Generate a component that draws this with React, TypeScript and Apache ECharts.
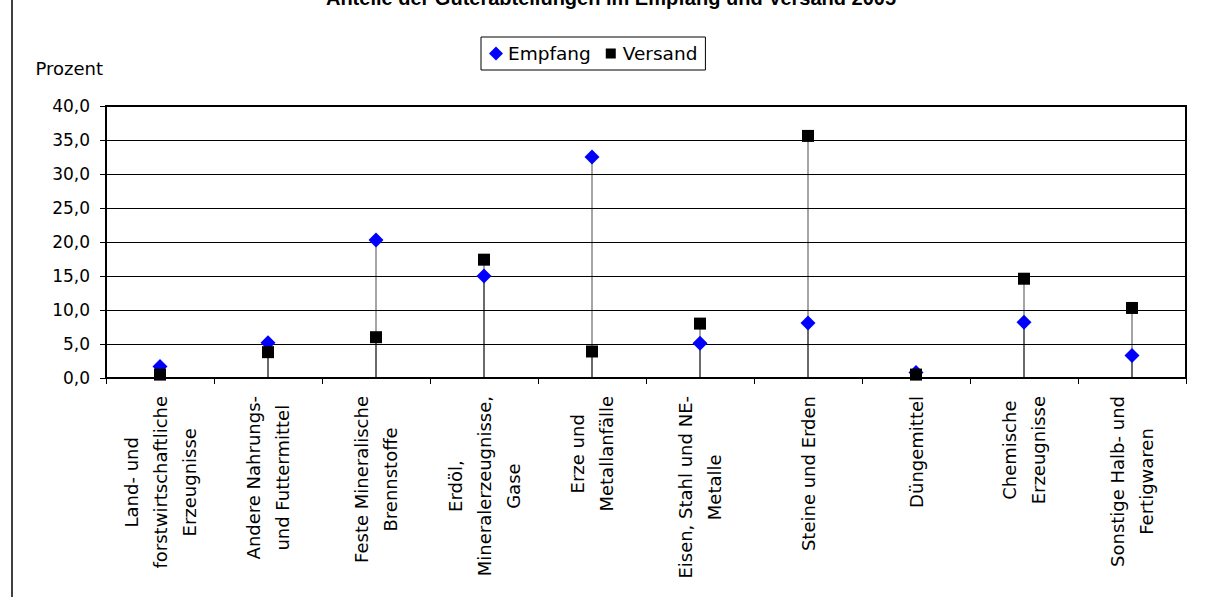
import React, { useEffect, useRef } from "react";
import * as echarts from "echarts";

const titleText = "Anteile der Güterabteilungen im Empfang und Versand 2005";
const yAxisName = "Prozent";
const categories = [
  "Land- und\nforstwirtschaftliche\nErzeugnisse",
  "Andere Nahrungs-\nund Futtermittel",
  "Feste Mineralische\nBrennstoffe",
  "Erdöl,\nMineralerzeugnisse,\nGase",
  "Erze und\nMetallanfälle",
  "Eisen, Stahl und NE-\nMetalle",
  "Steine und Erden",
  "Düngemittel",
  "Chemische\nErzeugnisse",
  "Sonstige Halb- und\nFertigwaren",
];
const empfang = [1.7, 5.2, 20.3, 15.0, 32.5, 5.1, 8.1, 0.8, 8.2, 3.3];
const versand = [0.5, 3.8, 6.0, 17.4, 3.9, 8.0, 35.6, 0.5, 14.6, 10.3];
const yMin = 0;
const yMax = 40;
const yInterval = 5;

const FONT = "DejaVu Sans";

export default function App() {
  const ref = useRef<HTMLDivElement>(null);
  useEffect(() => {
    if (!ref.current) return;
    const chart = echarts.init(ref.current, undefined, { renderer: "svg" });
    chart.setOption({
      animation: false,
      backgroundColor: "#fff",
      graphic: [
        {
          type: "text",
          x: 611,
          y: -12,
          style: {
            text: titleText,
            font: 'bold 20px "Liberation Sans"',
            fill: "#000",
            align: "center",
            verticalAlign: "top",
          },
        },
        {
          type: "line",
          shape: { x1: 12, y1: 0, x2: 12, y2: 597 },
          style: { stroke: "#000", lineWidth: 1.5 },
        },
      ],
      legend: {
        left: 481,
        top: 37,
        padding: [7, 8],
        itemGap: 13,
        itemWidth: 14,
        itemHeight: 14,
        borderColor: "#000",
        borderWidth: 1,
        borderRadius: 0,
        textStyle: { fontFamily: FONT, fontSize: 18.5, color: "#000" },
        data: [
          { name: "Empfang", icon: "diamond" },
          { name: "Versand", icon: "path://M-2,-2M12,12M0,0h10v10h-10z" },
        ],
      },
      grid: {
        left: 106,
        top: 106,
        width: 1080,
        height: 272,
        show: true,
        borderColor: "#000",
        borderWidth: 2,
        backgroundColor: "transparent",
      },
      xAxis: {
        type: "category",
        data: categories,
        boundaryGap: true,
        axisLine: { lineStyle: { color: "#000", width: 2 } },
        axisTick: { show: true, length: 6, lineStyle: { color: "#000", width: 1 } },
        axisLabel: {
          rotate: 90,
          margin: 18,
          interval: 0,
          formatter: (v: string) =>
            v
              .split("\n")
              .map((l) => `{c|${l}}`)
              .join("\n"),
          rich: {
            c: {
              align: "center",
              fontFamily: FONT,
              fontSize: 18,
              lineHeight: 29,
              color: "#000",
            },
          },
        },
      },
      yAxis: {
        type: "value",
        min: yMin,
        max: yMax,
        interval: yInterval,
        name: yAxisName,
        nameLocation: "end",
        nameGap: 29,
        nameTextStyle: {
          fontFamily: FONT,
          fontSize: 18,
          color: "#000",
          align: "right",
          padding: [0, 3, 0, 0],
        },
        axisLine: { show: true, lineStyle: { color: "#000", width: 2 } },
        axisTick: { show: true, length: 6, lineStyle: { color: "#000", width: 1 } },
        axisLabel: {
          margin: 16,
          fontFamily: FONT,
          fontSize: 17,
          color: "#000",
          formatter: (v: number) => v.toFixed(1).replace(".", ","),
        },
        splitLine: { show: true, lineStyle: { color: "#000", width: 1 } },
      },
      series: [
        {
          name: "EmpfangLinie",
          type: "bar",
          data: empfang,
          barWidth: 1,
          barGap: "-100%",
          itemStyle: { color: "rgba(0,0,0,0.7)" },
          silent: true,
        },
        {
          name: "VersandLinie",
          type: "bar",
          data: versand,
          barWidth: 1,
          barGap: "-100%",
          itemStyle: { color: "rgba(0,0,0,0.7)" },
          silent: true,
        },
        {
          name: "Empfang",
          type: "scatter",
          data: empfang,
          symbol: "diamond",
          symbolSize: 15,
          itemStyle: { color: "#0000ff", opacity: 1 },
          z: 5,
        },
        {
          name: "Versand",
          type: "scatter",
          data: versand,
          symbol: "rect",
          symbolSize: 12,
          itemStyle: { color: "#000", opacity: 1 },
          z: 6,
        },
      ],
    });
    return () => chart.dispose();
  }, []);
  return (
    <div
      ref={ref}
      style={{ position: "fixed", left: 0, top: 0, width: 1205, height: 597 }}
    />
  );
}
